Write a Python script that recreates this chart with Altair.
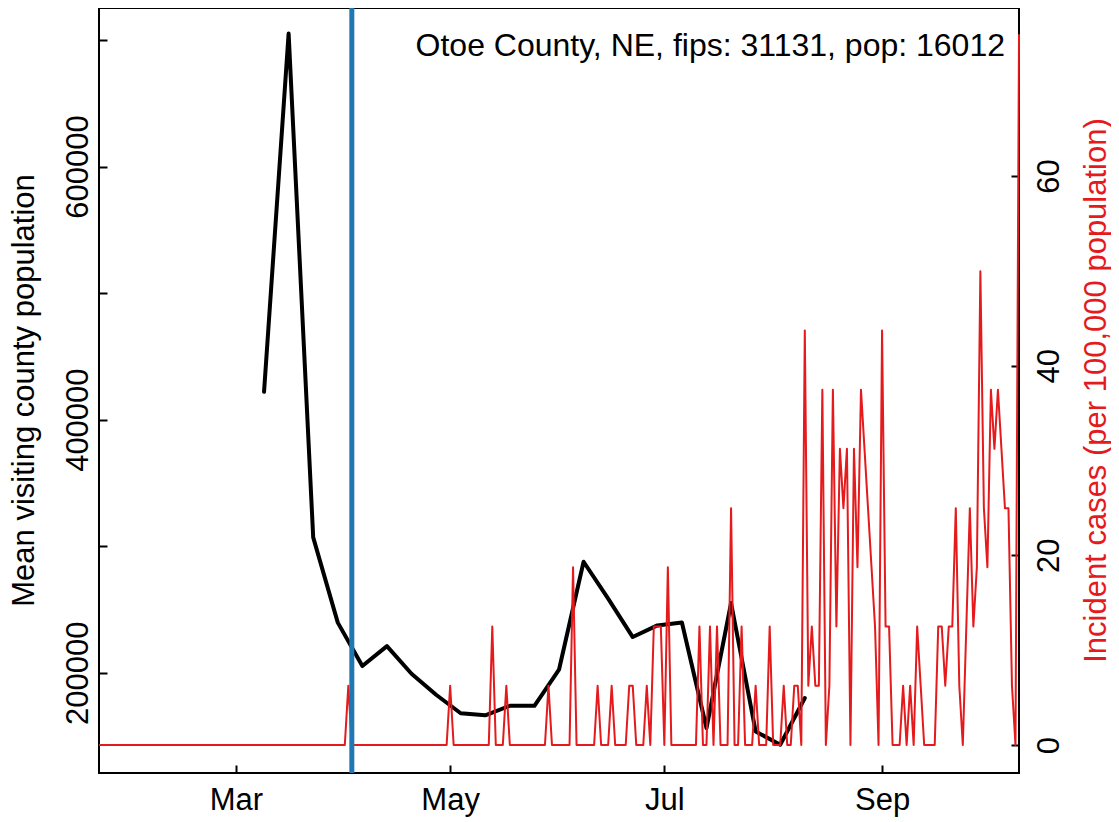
import altair as alt
import pandas as pd

# ---------------- data ----------------
visit_dates = ["2020-03-09", "2020-03-16", "2020-03-23", "2020-03-30", "2020-04-06",
               "2020-04-13", "2020-04-20", "2020-04-27", "2020-05-04", "2020-05-11",
               "2020-05-18", "2020-05-25", "2020-06-01", "2020-06-08", "2020-06-15",
               "2020-06-22", "2020-06-29", "2020-07-06", "2020-07-13", "2020-07-20",
               "2020-07-27", "2020-08-03", "2020-08-10"]
visit_values = [422000, 705100, 307000, 239600, 205300,
                221000, 199200, 182600, 168000, 166400,
                173900, 173900, 202400, 287700, 258500,
                228200, 237400, 239700, 156300, 255100,
                153600, 143100, 180000]

# incident cases per 100,000, daily from 2020-01-22 to 2020-10-10
cases_jan = [0, 0, 0, 0, 0, 0, 0, 0, 0, 0]
cases_feb = [0, 0, 0, 0, 0, 0, 0, 0, 0, 0, 0, 0, 0, 0, 0, 0, 0, 0, 0, 0,
             0, 0, 0, 0, 0, 0, 0, 0, 0]
cases_mar = [0, 0, 0, 0, 0, 0, 0, 0, 0, 0, 0, 0, 0, 0, 0, 0, 0, 0, 0, 0,
             0, 0, 0, 0, 0, 0, 0, 0, 0, 0, 0]
cases_apr = [0, 6.25, 0, 0, 0, 0, 0, 0, 0, 0, 0, 0, 0, 0, 0, 0, 0, 0, 0, 0,
             0, 0, 0, 0, 0, 0, 0, 0, 0, 0]
cases_may = [6.25, 0, 0, 0, 0, 0, 0, 0, 0, 0, 0, 0, 12.49, 0, 0, 0, 6.25, 0, 0, 0,
             0, 0, 0, 0, 0, 0, 0, 0, 6.25, 0, 0]
cases_jun = [0, 0, 0, 0, 18.74, 0, 0, 0, 0, 0, 0, 6.25, 0, 0, 0, 6.25, 0, 0, 0, 0,
             6.25, 6.25, 0, 0, 0, 6.25, 0, 12.49, 12.49, 12.49]
cases_jul = [0, 18.74, 0, 0, 0, 0, 0, 0, 0, 0, 12.49, 0, 0, 12.49, 0, 12.49, 0, 0, 0, 24.98,
             0, 0, 12.49, 0, 0, 0, 6.25, 0, 0, 0, 12.49]
cases_aug = [0, 0, 0, 6.25, 0, 0, 6.25, 6.25, 0, 43.72, 6.25, 12.49, 6.25, 6.25, 37.47, 0,
             6.25, 37.47, 12.49, 31.23, 24.98, 31.23, 0, 31.23, 18.74, 37.47, 31.23, 24.98,
             18.74, 12.49, 0]
cases_sep = [43.72, 12.49, 12.49, 0, 0, 0, 6.25, 0, 6.25, 0, 12.49, 6.25, 0, 0, 0, 0,
             12.49, 12.49, 6.25, 12.49, 12.49, 24.98, 6.25, 0, 12.49, 24.98, 12.49, 18.74,
             49.96, 24.98]
cases_oct = [18.74, 37.47, 31.23, 37.47, 31.23, 24.98, 24.98, 6.25, 0, 74.94]

case_values = (cases_jan + cases_feb + cases_mar + cases_apr + cases_may + cases_jun
               + cases_jul + cases_aug + cases_sep + cases_oct)
case_dates = pd.date_range("2020-01-22", periods=len(case_values), freq="D").strftime("%Y-%m-%d")

vline_dates = ["2020-04-03"]
label_text = ["Otoe County, NE, fips: 31131, pop: 16012"]

left_ticks = [200000, 300000, 400000, 500000, 600000, 700000]
right_ticks = [0, 20, 40, 60]
month_ticks = [3, 5, 7, 9]

visit_df = pd.DataFrame({"date": visit_dates, "visitors": visit_values})
case_df = pd.DataFrame({"date": list(case_dates), "cases": case_values})
vline_df = pd.DataFrame({"date": vline_dates})
label_df = pd.DataFrame({"t": label_text})

# ---------------- style ----------------
W, H = 920, 765
FONT = "Liberation Sans"
FS = 31
RED = "#E41A1C"
BLUE = "#1F78B4"

x_scale = alt.Scale(
    type="utc",
    domain=[alt.DateTime(year=2020, month=1, date=22, utc=True),
            alt.DateTime(year=2020, month=10, date=10, utc=True)],
)
x_axis = alt.Axis(
    orient="bottom",
    values=[alt.DateTime(year=2020, month=m, date=1, utc=True) for m in month_ticks],
    labelExpr="utcFormat(datum.value, '%b')",
    offset=-8, tickSize=8, tickWidth=2, tickColor="black",
    domain=False, grid=False,
    labelFont=FONT, labelFontSize=FS, labelColor="black",
    labelPadding=36, labelBaseline="alphabetic", labelAlign="center", labelAngle=0,
    labelFlush=False, labelOverlap=False, labelBound=False,
    title=None,
)
x_enc = alt.X("date:T", scale=x_scale, axis=x_axis)

black = alt.Chart(visit_df).mark_line(
    color="black", strokeWidth=4, strokeJoin="round", strokeCap="round"
).encode(
    x=x_enc,
    y=alt.Y(
        "visitors:Q",
        scale=alt.Scale(domain=[120774, 725276], nice=False, zero=False),
        axis=alt.Axis(
            orient="left", values=left_ticks,
            labelExpr="datum.value % 200000 == 0 ? format(datum.value, 'd') : ''",
            offset=-8, tickSize=8, tickWidth=2, tickColor="black",
            domain=False, grid=False,
            labelFont=FONT, labelFontSize=FS, labelColor="black",
            labelAngle=270, labelAlign="center", labelBaseline="alphabetic",
            labelPadding=12, labelFlush=False, labelOverlap=False, labelBound=False,
            title="Mean visiting county population",
            titleFont=FONT, titleFontSize=FS, titleFontWeight="normal", titleColor="black",
            titleAngle=270, titleAlign="center", titleBaseline="alphabetic",
            titleX=-74, titleY=382,
        ),
    ),
)

red = alt.Chart(case_df).mark_line(
    color=RED, strokeWidth=2, strokeJoin="round"
).encode(
    x=x_enc,
    y=alt.Y(
        "cases:Q",
        scale=alt.Scale(domain=[-2.95, 77.72], nice=False, zero=False),
        axis=alt.Axis(
            orient="right", values=right_ticks, format="d",
            offset=-8, tickSize=8, tickWidth=2, tickColor="black",
            domain=False, grid=False,
            labelFont=FONT, labelFontSize=FS, labelColor="black",
            labelAngle=270, labelAlign="center", labelBaseline="alphabetic",
            labelPadding=39, labelFlush=False, labelOverlap=False, labelBound=False,
            title="Incident cases (per 100,000 population)",
            titleFont=FONT, titleFontSize=FS, titleFontWeight="normal", titleColor=RED,
            titleAngle=270, titleAlign="center", titleBaseline="alphabetic",
            titleX=94, titleY=382,
        ),
    ),
)

vline = alt.Chart(vline_df).mark_rule(color=BLUE, strokeWidth=5).encode(x=x_enc)

label = alt.Chart(label_df).mark_text(
    align="right", baseline="alphabetic", font=FONT, fontSize=32, color="black"
).encode(text="t:N", x=alt.value(906), y=alt.value(48))

chart = alt.layer(black, red, vline, label).resolve_scale(y="independent").properties(
    width=W, height=H,
    autosize=alt.AutoSizeParams(type="none"),
    padding={"left": 91, "top": 0, "right": 92, "bottom": 45},
    background="white",
).configure_view(stroke="black", strokeWidth=2)

chart.save("out.html", embed_options={"renderer": "svg", "actions": False})
